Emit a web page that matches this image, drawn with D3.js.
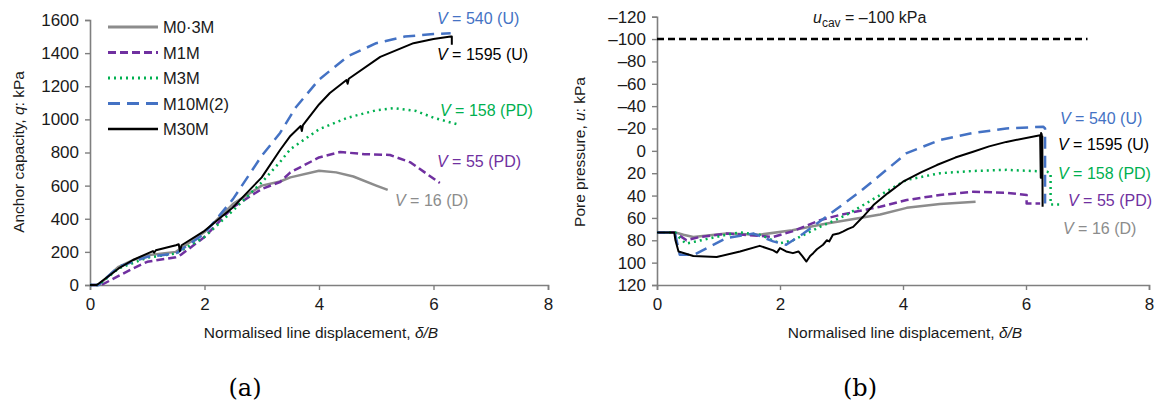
<!DOCTYPE html>
<html>
<head>
<meta charset="utf-8">
<script src="https://cdn.jsdelivr.net/npm/d3@7"></script>
<style>
  body { margin: 0; background: #fff; }
  svg { display: block; font-family: "Liberation Sans", Arial, sans-serif; }
</style>
</head>
<body>
<div id="chart"></div>
<script>
// series names and styling keys
const seriesNames = ['M0·3M', 'M1M', 'M3M', 'M10M(2)', 'M30M'];
const seriesColors = ['#8c8c8c', '#7030a0', '#00b050', '#4472c4', '#000000'];
const seriesDash = [null, '8,4', '2,4', '12,7', null];
const seriesWidth = [2.5, 2.5, 2.5, 2.5, 2];

// (a) anchor capacity q (kPa) vs delta/B
const capM03 = [[0,0],[0.15,0],[0.5,110],[0.75,150],[1,180],[1.5,200],[2,320],[2.5,490],[3,600],[3.32,625],[3.5,650],[4,690],[4.3,680],[4.6,655],[5,600],[5.2,574]];
const capM1 = [[0,0],[0.2,0],[0.5,55],[0.75,100],[1,140],[1.5,168],[1.6,185],[2,290],[2.5,470],[3,580],[3.32,622],[3.5,680],[4,770],[4.37,803],[4.8,790],[5.24,785],[5.6,740],[6.11,616]];
const capM3 = [[0,0],[0.15,0],[0.5,100],[1,165],[1.5,190],[2,290],[2.5,450],[3,620],[3.32,743],[3.5,820],[4,940],[4.5,1010],[5,1055],[5.3,1068],[5.7,1050],[6,1010],[6.46,966]];
const capM10 = [[0,0],[0.15,0],[0.5,110],[1,170],[1.5,190],[2,310],[2.5,520],[3,780],[3.32,918],[3.6,1075],[4,1240],[4.5,1380],[5,1460],[5.5,1500],[6,1515],[6.3,1520]];
const capM30 = [[0,0],[0.12,0],[0.5,100],[0.75,151],[1.1,205],[1.12,195],[1.15,210],[1.5,240],[1.55,246],[1.57,205],[1.6,240],[1.98,322],[2.5,470],[3,650],[3.32,815],[3.5,900],[3.68,960],[3.7,930],[3.72,965],[4,1090],[4.19,1159],[4.48,1238],[4.5,1215],[4.52,1245],[5.07,1377],[5.65,1460],[6,1485],[6.3,1500],[6.32,1500],[6.32,1450]];
const capSeries = [capM03, capM1, capM3, capM10, capM30];
const capTicks = [0, 200, 400, 600, 800, 1000, 1200, 1400, 1600];

// (b) pore pressure u (kPa) vs delta/B
const poreM03 = [[0,73],[0.3,73],[0.43,75],[0.59,77],[1.13,74],[1.67,75],[2.2,71],[2.76,65],[3.2,61],[3.63,57],[4.06,51],[4.6,47.6],[5.18,45.5]];
const poreM1 = [[0,73],[0.29,73],[0.48,80],[0.7,77],[1.13,74],[1.67,76],[1.89,77],[2.2,72],[2.65,62],[3.0,57],[3.63,50],[4.06,44],[4.6,39.5],[5.14,36.6],[5.68,37.5],[6.01,39.5],[6.01,47],[6.23,47]];
const poreM3 = [[0,73],[0.3,73],[0.37,78],[0.47,83],[1.13,75],[1.35,73],[1.67,75],[2,82.7],[2.21,80],[2.65,68],[3.08,57.4],[3.63,39.5],[4.06,26],[4.6,20],[5.14,18],[5.68,17],[6.34,18.6],[6.4,20],[6.4,48],[6.55,48]];
const poreM10 = [[0,73],[0.29,73],[0.37,93],[0.6,93],[1.13,78],[1.57,74],[1.89,81],[2.1,84],[2.38,74],[2.86,54.5],[3.3,36.6],[3.63,21.6],[4.06,2],[4.6,-9.7],[5.14,-16],[5.68,-20],[6.28,-21.6],[6.31,-20],[6.31,47]];
const poreM30 = [[0,73],[0.28,73],[0.3,80],[0.35,90],[0.59,94],[0.97,95],[1.35,90],[1.67,85],[1.89,89],[1.95,91],[2.0,87],[2.1,90],[2.21,91.5],[2.3,90],[2.36,94],[2.43,99],[2.49,94],[2.54,91.5],[2.6,88],[2.65,86],[2.7,84],[2.76,80],[2.8,81],[2.86,75],[2.95,74],[3.03,72],[3.1,70],[3.19,68],[3.35,59],[3.52,48.5],[3.75,38],[4.0,27.6],[4.3,19],[4.55,12.7],[4.85,6],[5.14,0.8],[5.4,-4],[5.68,-8],[6.23,-14],[6.24,24],[6.245,-16],[6.25,22],[6.255,-15],[6.26,20],[6.265,-13],[6.27,50]];
const poreSeries = [poreM03, poreM1, poreM3, poreM10, poreM30];
const poreTicks = [-120, -100, -80, -60, -40, -20, 0, 20, 40, 60, 80, 100, 120];
const xTicks = [0, 2, 4, 6, 8];
const uCav = -100;

// end-of-curve labels
const capLabels = [
  { v: ' 540 (U)', x: 437, y: 24, color: '#4472c4' },
  { v: '1595 (U)', x: 437, y: 60, color: '#000' },
  { v: '158 (PD)', x: 440, y: 116, color: '#00b050' },
  { v: '55 (PD)', x: 437, y: 167, color: '#7030a0' },
  { v: '16 (D)', x: 395, y: 206, color: '#8c8c8c' }
];
const poreLabels = [
  { v: '540 (U)', x: 1060, y: 124, color: '#4472c4' },
  { v: '1595 (U)', x: 1058, y: 150, color: '#000' },
  { v: '158 (PD)', x: 1058, y: 179, color: '#00b050' },
  { v: '55 (PD)', x: 1068, y: 206, color: '#7030a0' },
  { v: '16 (D)', x: 1063, y: 234, color: '#8c8c8c' }
];

const width = 1165, height = 409;
const svg = d3.select('#chart').append('svg')
  .attr('width', width).attr('height', height);

function drawPanel(opts) {
  const x = d3.scaleLinear().domain([0, 8]).range([opts.x0, opts.x1]);
  const y = d3.scaleLinear().domain(opts.yDomain).range(opts.yRange);
  const g = svg.append('g');

  const xAxis = g.append('g')
    .attr('transform', `translate(0,${opts.axisY})`)
    .call(d3.axisBottom(x).tickValues(xTicks).tickSize(5).tickPadding(8));
  const yAxis = g.append('g')
    .attr('transform', `translate(${opts.x0},0)`)
    .call(d3.axisLeft(y).tickValues(opts.yTicks).tickSize(5).tickPadding(6)
      .tickFormat(d => d < 0 ? '\u2013' + Math.abs(d) : d));
  [xAxis, yAxis].forEach(a => {
    a.select('.domain').attr('stroke', '#7f7f7f').attr('stroke-width', 1.6);
    a.selectAll('.tick line').attr('stroke', '#7f7f7f').attr('stroke-width', 1.4);
    a.selectAll('.tick text').attr('font-size', 17).attr('fill', '#1a1a1a')
      .attr('font-family', '"Liberation Sans", Arial, sans-serif');
  });

  if (opts.extra) opts.extra(g, x, y);

  const line = d3.line().x(d => x(d[0])).y(d => y(d[1]));
  opts.series.forEach((s, i) => {
    g.append('path').datum(s)
      .attr('d', line)
      .attr('fill', 'none')
      .attr('stroke', seriesColors[i])
      .attr('stroke-width', seriesWidth[i])
      .attr('stroke-dasharray', seriesDash[i])
      .attr('stroke-linejoin', 'round');
  });

  opts.labels.forEach(l => {
    const t = g.append('text').attr('x', l.x).attr('y', l.y)
      .attr('font-size', 16).attr('fill', l.color);
    t.append('tspan').attr('font-style', 'italic').text('V');
    t.append('tspan').text(' = ' + l.v);
  });

  const xl = g.append('text')
    .attr('x', (opts.x0 + opts.x1) / 2 + 2).attr('y', 338)
    .attr('text-anchor', 'middle').attr('font-size', 15.5).attr('fill', '#1a1a1a');
  xl.append('tspan').text('Normalised line displacement, ');
  xl.append('tspan').attr('font-style', 'italic').text('\u03b4/B');

  const yl = g.append('text')
    .attr('transform', `translate(${opts.yLabelX},152) rotate(-90)`)
    .attr('text-anchor', 'middle').attr('font-size', 15.5).attr('fill', '#1a1a1a');
  yl.append('tspan').text(opts.yLabel[0]);
  yl.append('tspan').attr('font-style', 'italic').text(opts.yLabel[1]);
  yl.append('tspan').text(opts.yLabel[2]);

  svg.append('text')
    .attr('x', opts.captionX).attr('y', 396)
    .attr('text-anchor', 'middle')
    .attr('font-family', '"DejaVu Serif", "Liberation Serif", serif')
    .attr('font-size', 24).attr('fill', '#000')
    .text(opts.caption);
}

drawPanel({
  x0: 90, x1: 548, axisY: 285,
  yDomain: [0, 1600], yRange: [285, 20], yTicks: capTicks,
  series: capSeries, labels: capLabels,
  yLabel: ['Anchor capacity, ', 'q', ': kPa'], yLabelX: 24,
  caption: '(a)', captionX: 245
});

drawPanel({
  x0: 657, x1: 1149, axisY: 285,
  yDomain: [-120, 120], yRange: [16.7, 285], yTicks: poreTicks,
  series: poreSeries, labels: poreLabels,
  yLabel: ['Pore pressure, ', 'u', ': kPa'], yLabelX: 585,
  caption: '(b)', captionX: 860,
  extra: (g, x, y) => {
    g.append('line')
      .attr('x1', x(0)).attr('x2', x(7))
      .attr('y1', y(uCav)).attr('y2', y(uCav))
      .attr('stroke', '#000').attr('stroke-width', 2.5)
      .attr('stroke-dasharray', '7,4');
    const t = g.append('text').attr('x', 813).attr('y', 23)
      .attr('font-size', 16).attr('fill', '#1a1a1a');
    t.append('tspan').attr('font-style', 'italic').text('u');
    t.append('tspan').attr('font-size', 12).attr('dy', 4).text('cav');
    t.append('tspan').attr('dy', -4).text(' = \u2013100 kPa');
  }
});

// legend for panel (a)
const legend = svg.append('g');
seriesNames.forEach((name, i) => {
  const ly = 27 + i * 25.5;
  legend.append('line')
    .attr('x1', 108).attr('x2', 158).attr('y1', ly).attr('y2', ly)
    .attr('stroke', seriesColors[i]).attr('stroke-width', seriesWidth[i] + 0.5)
    .attr('stroke-dasharray', seriesDash[i]);
  legend.append('text').attr('x', 163).attr('y', ly + 6)
    .attr('font-size', 16.5).attr('fill', '#1a1a1a').text(name);
});
</script>
</body>
</html>
